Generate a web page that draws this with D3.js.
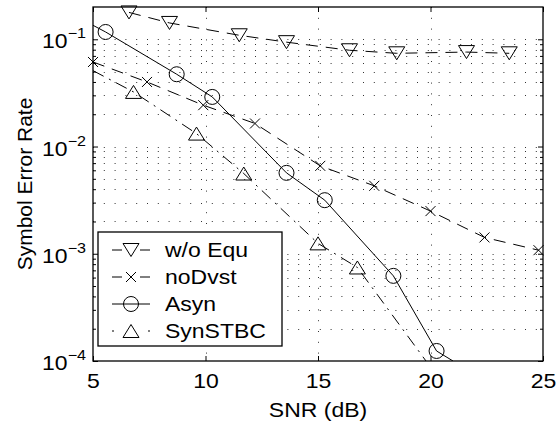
<!DOCTYPE html>
<html>
<head>
<meta charset="utf-8">
<script src="https://cdn.jsdelivr.net/npm/d3@7"></script>
<style>
  body { margin: 0; background: #fff; }
  text { font-family: "Liberation Sans", Arial, Helvetica, sans-serif; fill: #000; }
</style>
</head>
<body>
<div id="chart"></div>
<script>
// values (SNR in dB, symbol error rate)
// "Mk" arrays say which points carry a marker (line ends are not marked)
const woEquSNR = [6.6, 8.4, 11.5, 13.6, 16.4, 18.5, 21.6, 23.5];
const woEquSER = [0.178, 0.142, 0.109, 0.094, 0.079, 0.074, 0.076, 0.074];
const woEquMk  = [1, 1, 1, 1, 1, 1, 1, 1];

const noDvstSNR = [5.0, 7.4, 9.9, 12.2, 15.1, 17.5, 20.0, 22.4, 24.8];
const noDvstSER = [0.0614, 0.040, 0.0243, 0.0164, 0.0066, 0.0043, 0.0025, 0.00142, 0.00108];
const noDvstMk  = [1, 1, 1, 1, 1, 1, 1, 1, 1];

const asynSNR = [5.0, 5.56, 8.72, 10.3, 13.6, 15.3, 18.35, 20.27, 21.0];
const asynSER = [0.135, 0.117, 0.0472, 0.029, 0.00568, 0.00316, 0.000622, 0.000124, 0.0001];
const asynMk  = [0, 1, 1, 1, 1, 1, 1, 1, 0];

const synSNR = [5.0, 6.8, 9.6, 11.7, 15.0, 16.75, 19.8];
const synSER = [0.051, 0.0323, 0.0132, 0.0056, 0.00125, 0.000745, 0.0001];
const synMk  = [0, 1, 1, 1, 1, 1, 0];

const seriesNames = ["w/o Equ", "noDvst", "Asyn", "SynSTBC"];

const xTicks = [5, 10, 15, 20, 25];
const yDecades = [1e-4, 1e-3, 1e-2, 1e-1];
const yExponents = ["\u22124", "\u22123", "\u22122", "\u22121"];

const xLabel = "SNR (dB)";
const yLabel = "Symbol Error Rate";

// Dimensions
const W = 558, H = 429;
const margin = { top: 7, right: 15, bottom: 68, left: 93 };
const width = W - margin.left - margin.right;
const height = H - margin.top - margin.bottom;

// the original figure's text is a bit wider than Arial
const fontSize = 20;
const sx = 1.15;

const svg = d3.select("#chart")
  .append("svg")
  .attr("width", W)
  .attr("height", H);

const g = svg.append("g")
  .attr("transform", `translate(${margin.left},${margin.top})`);

const x = d3.scaleLinear().domain([5, 25]).range([0, width]);
const y = d3.scaleLog().domain([1e-4, 0.2]).range([height, 0]);

// minor y values 2..9 of each decade
const yMinor = [];
yDecades.forEach(d => {
  for (let k = 2; k <= 9; k++) {
    const v = k * d;
    if (v < 0.2) yMinor.push(v);
  }
});

svg.append("defs").append("clipPath").attr("id", "plotClip")
  .append("rect").attr("width", width).attr("height", height);

// Grid (dotted)
const grid = g.append("g")
  .attr("stroke", "#333")
  .attr("stroke-width", 1)
  .attr("stroke-dasharray", "1,9.8");

grid.selectAll(".gx")
  .data(xTicks.filter(d => d > 5 && d < 25))
  .enter().append("line")
  .attr("x1", d => Math.round(x(d)) + 0.5)
  .attr("x2", d => Math.round(x(d)) + 0.5)
  .attr("y1", 0)
  .attr("y2", height);

grid.selectAll(".gy")
  .data(yDecades.filter(d => d > 1e-4).concat(yMinor))
  .enter().append("line")
  .attr("x1", 0)
  .attr("x2", width)
  .attr("y1", d => Math.round(y(d)) + 0.5)
  .attr("y2", d => Math.round(y(d)) + 0.5);

// Series
const series = [
  { name: seriesNames[0], xs: woEquSNR, ys: woEquSER, mk: woEquMk, marker: "down", dash: "12,8", legendDash: "10,18,10" },
  { name: seriesNames[1], xs: noDvstSNR, ys: noDvstSER, mk: noDvstMk, marker: "cross", dash: "12,8", legendDash: "10,18,10" },
  { name: seriesNames[2], xs: asynSNR, ys: asynSER, mk: asynMk, marker: "circle", dash: null, legendDash: null },
  { name: seriesNames[3], xs: synSNR, ys: synSER, mk: synMk, marker: "up", dash: "12,6,2,6", legendDash: "2,6,0,22,0,6,2" }
];

const markerPath = {
  down: "M-8,-6.5L8,-6.5L0,6.5Z",
  up: "M-8,6.5L8,6.5L0,-6.5Z",
  circle: "M7.5,0A7.5,7.5 0 1,1 -7.5,0A7.5,7.5 0 1,1 7.5,0Z",
  cross: "M-5,-5L5,5M-5,5L5,-5"
};

const line = d3.line()
  .x(d => x(d[0]))
  .y(d => y(d[1]));

series.forEach(s => {
  const pts = s.xs.map((v, i) => [v, s.ys[i], s.mk[i]]);

  g.append("path")
    .datum(pts)
    .attr("clip-path", "url(#plotClip)")
    .attr("fill", "none")
    .attr("stroke", "#000")
    .attr("stroke-width", 1)
    .attr("stroke-dasharray", s.dash)
    .attr("d", line);

  g.selectAll(null)
    .data(pts.filter(p => p[2]))
    .enter().append("path")
    .attr("transform", p => `translate(${x(p[0])},${y(p[1])})`)
    .attr("d", markerPath[s.marker])
    .attr("fill", "none")
    .attr("stroke", "#000")
    .attr("stroke-width", 1);
});

// Axes (ticks inward on all four sides)
const xAxisB = g.append("g")
  .attr("transform", `translate(0,${height})`)
  .call(d3.axisBottom(x).tickValues(xTicks).tickSize(-5).tickSizeOuter(0).tickPadding(13));
g.append("g")
  .call(d3.axisTop(x).tickValues(xTicks).tickSize(-5).tickSizeOuter(0).tickFormat(""));

const yAxisL = g.append("g")
  .call(d3.axisLeft(y).tickValues(yDecades).tickSize(-5).tickSizeOuter(0).tickPadding(7));
g.append("g")
  .attr("transform", `translate(${width},0)`)
  .call(d3.axisRight(y).tickValues(yDecades).tickSize(-5).tickSizeOuter(0).tickFormat(""));

g.append("g")
  .call(d3.axisLeft(y).tickValues(yMinor).tickSize(-3).tickSizeOuter(0).tickFormat(""));
g.append("g")
  .attr("transform", `translate(${width},0)`)
  .call(d3.axisRight(y).tickValues(yMinor).tickSize(-3).tickSizeOuter(0).tickFormat(""));

g.selectAll(".domain").remove();
g.selectAll(".tick line").attr("stroke", "#000");

xAxisB.selectAll(".tick text")
  .attr("font-size", fontSize)
  .attr("font-family", null)
  .attr("dy", "0.72em")
  .attr("transform", `scale(${sx},1)`);

yAxisL.selectAll(".tick text")
  .attr("font-size", fontSize)
  .attr("font-family", null)
  .attr("x", -7 / sx)
  .attr("dy", 8.5)
  .attr("transform", `scale(${sx},1)`)
  .text("10")
  .append("tspan")
  .attr("font-size", 14)
  .attr("dy", -10)
  .text(d => yExponents[yDecades.indexOf(d)]);

// Box
g.append("rect")
  .attr("width", width)
  .attr("height", height)
  .attr("fill", "none")
  .attr("stroke", "#000")
  .attr("stroke-width", 1.3);

// Axis labels
svg.append("text")
  .attr("transform", `translate(${margin.left + width / 2},417) scale(${sx},1)`)
  .attr("text-anchor", "middle")
  .attr("font-size", fontSize)
  .text(xLabel);

svg.append("text")
  .attr("transform", `translate(32,${margin.top + height / 2}) rotate(-90)`)
  .attr("text-anchor", "middle")
  .attr("font-size", fontSize + 1)
  .text(yLabel);

// Legend
const legend = svg.append("g").attr("transform", "translate(98,232)");
legend.append("rect")
  .attr("width", 184)
  .attr("height", 114)
  .attr("fill", "#fff")
  .attr("stroke", "#000")
  .attr("stroke-width", 1.3);

const rows = legend.selectAll(".row")
  .data(series)
  .enter().append("g")
  .attr("transform", (d, i) => `translate(0,${18 + i * 27})`);

rows.append("line")
  .attr("x1", 14).attr("x2", 52)
  .attr("stroke", "#000")
  .attr("stroke-width", 1)
  .attr("stroke-dasharray", d => d.legendDash);

rows.append("path")
  .attr("transform", "translate(33,0)")
  .attr("d", d => markerPath[d.marker])
  .attr("fill", "none")
  .attr("stroke", "#000");

rows.append("text")
  .attr("transform", `translate(67,7) scale(${sx},1)`)
  .attr("font-size", fontSize)
  .text(d => d.name);
</script>
</body>
</html>
